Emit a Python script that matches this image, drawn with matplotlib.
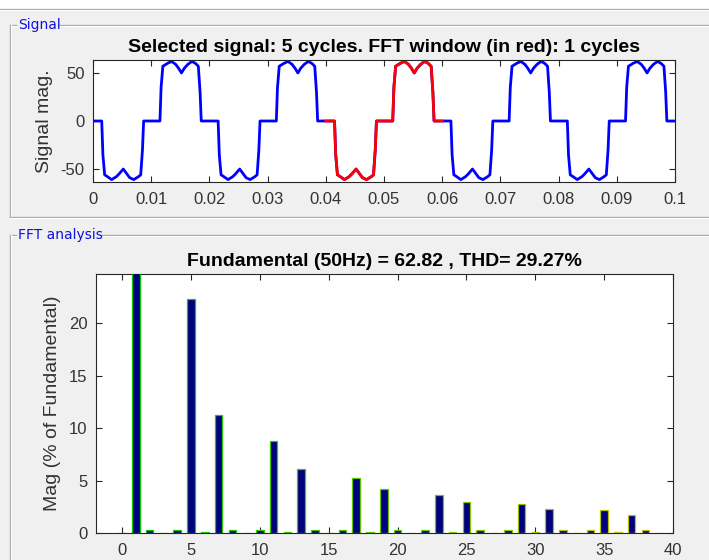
import numpy as np
import matplotlib
matplotlib.use("Agg")
import matplotlib.pyplot as plt
from matplotlib.lines import Line2D
from matplotlib.patches import Rectangle

# ================= DATA =================
# one 50 Hz period of the selected signal (s, magnitude)
CYCLE_T = [0.0000, 0.0015, 0.0017, 0.0020, 0.0025, 0.0032, 0.0040, 0.0045,
           0.0052, 0.0058, 0.0063, 0.0070, 0.0078, 0.0082, 0.0085, 0.0087,
           0.0115, 0.0117, 0.0120, 0.0128, 0.0135, 0.0142, 0.0147, 0.0152,
           0.0157, 0.0163, 0.0170, 0.0176, 0.0181, 0.0184, 0.0186, 0.0200]
CYCLE_V = [0, 0, -35, -56, -58, -61, -58, -55,
           -50, -55, -59, -61, -58, -56, -30, 0,
           0, 35, 57, 60, 62, 59, 55, 50,
           55, 59, 62, 60, 57, 30, 0, 0]
PERIOD = 0.02
N_CYCLES = 5
FFT_CYCLE = 2  # ciklus index a piros ablakhoz (0.04 - 0.06 s)

# harmonic order and magnitude (% of fundamental)
HARM = list(range(0, 40))
HARM_MAG = [0.0, 100.0, 0.25, 0.0, 0.25, 22.35, 0.08, 11.25, 0.25, 0.0,
            0.25, 8.75, 0.08, 6.15, 0.25, 0.0, 0.25, 5.25, 0.08, 4.15,
            0.25, 0.0, 0.25, 3.65, 0.05, 3.0, 0.25, 0.0, 0.25, 2.75,
            0.05, 2.25, 0.25, 0.0, 0.25, 2.15, 0.05, 1.75, 0.25, 0.0]

TOP_TITLE = "Selected signal: 5 cycles. FFT window (in red): 1 cycles"
FFT_TITLE = "Fundamental (50Hz) = 62.82 , THD= 29.27%"
X_TICKS_TOP = [0, 0.01, 0.02, 0.03, 0.04, 0.05, 0.06, 0.07, 0.08, 0.09, 0.1]
X_LABELS_TOP = ["0", "0.01", "0.02", "0.03", "0.04", "0.05", "0.06", "0.07",
                "0.08", "0.09", "0.1"]

# ================= STYLE =================
W, H = 709, 560
BG = "#f0f0f0"
AX_COL = "#262626"
TICK_COL = "#333333"

plt.rcParams['font.family'] = ['Liberation Sans', 'DejaVu Sans']
plt.rcParams['axes.unicode_minus'] = False


def fx(x):
    return x / W


def fy(y):
    return 1 - y / H


def ax_rect(left, top, right, bottom):
    return [fx(left), fy(bottom), (right - left) / W, (bottom - top) / H]


def hline(fig, x0, x1, y):
    fig.add_artist(Line2D([fx(x0), fx(x1)], [fy(y), fy(y)], color="#a0a0a0",
                          lw=0.9, transform=fig.transFigure))
    fig.add_artist(Line2D([fx(x0), fx(x1)], [fy(y + 1), fy(y + 1)], color="white",
                          lw=0.9, transform=fig.transFigure))


def vline(fig, x, y0, y1):
    fig.add_artist(Line2D([fx(x), fx(x)], [fy(y0), fy(y1)], color="#a0a0a0",
                          lw=0.9, transform=fig.transFigure))
    fig.add_artist(Line2D([fx(x + 1), fx(x + 1)], [fy(y0), fy(y1)], color="white",
                          lw=0.9, transform=fig.transFigure))


def style_axes(ax):
    for sp in ax.spines.values():
        sp.set_color(AX_COL)
        sp.set_linewidth(0.8)
    ax.tick_params(direction='in', top=True, right=True, length=4,
                   width=0.8, color=AX_COL, labelsize=12, labelcolor=TICK_COL)
    ax.tick_params(axis='x', pad=7)
    ax.tick_params(axis='y', pad=6)


fig = plt.figure(figsize=(W / 100, H / 100), dpi=100, facecolor=BG)

# felső fehér sáv
fig.add_artist(Rectangle((0, fy(9)), 1, 9 / H, transform=fig.transFigure,
                         facecolor="white", edgecolor="none"))
hline(fig, 0, W, 9)

# panel keretek
hline(fig, 10, 16, 25)
hline(fig, 59, W, 25)
vline(fig, 10, 25, 217)
hline(fig, 10, W, 217)
fig.text(fx(18), fy(25), "Signal", color="#1010e0", fontsize=10,
         family=['DejaVu Sans'], va='center', ha='left')

hline(fig, 10, 16, 235)
hline(fig, 100, W, 235)
vline(fig, 10, 235, H)
fig.text(fx(18), fy(235), "FFT analysis", color="#1010e0", fontsize=10,
         family=['DejaVu Sans'], va='center', ha='left')

# ========== SIGNAL ==========
ax1 = fig.add_axes(ax_rect(93, 60, 675, 182))
cyc_t = np.array(CYCLE_T)
cyc_v = np.array(CYCLE_V)
t_all = np.concatenate([cyc_t + k * PERIOD for k in range(N_CYCLES)])
v_all = np.concatenate([cyc_v for k in range(N_CYCLES)])
ax1.plot(t_all, v_all, color=(0, 0, 1), lw=2.0)
ax1.plot(cyc_t + FFT_CYCLE * PERIOD, cyc_v, color=(1, 0, 0), lw=2.0)
ax1.set_xlim(0, 0.1)
ax1.set_ylim(-63.5, 63.5)
ax1.set_xticks(X_TICKS_TOP)
ax1.set_xticklabels(X_LABELS_TOP)
ax1.set_yticks([-50, 0, 50])
ax1.set_title(TOP_TITLE, fontsize=14, fontweight='bold', pad=5.5)
ax1.set_ylabel("Signal mag.", fontsize=14, color=TICK_COL, va='center')
ax1.yaxis.set_label_coords(-0.083, 0.5)
style_axes(ax1)

# ========== FFT ==========
ax2 = fig.add_axes(ax_rect(96, 274, 673, 533))
n = len(HARM)
edge_cols = [(0.0 + 0.8 * i / (n - 1), 0.78 - 0.02 * i / (n - 1), 0.0) for i in range(n)]
ax2.bar(HARM, HARM_MAG, width=0.55, color=(0, 0, 0.5), edgecolor=edge_cols,
        linewidth=0.9, zorder=3)
ax2.set_xlim(-1.9, 40)
ax2.set_ylim(0, 24.7)
ax2.set_xticks(range(0, 41, 5))
ax2.set_yticks(range(0, 21, 5))
ax2.set_title(FFT_TITLE, fontsize=14, fontweight='bold', pad=5.5)
ax2.set_ylabel("Mag (% of Fundamental)", fontsize=14, color=TICK_COL, va='center')
ax2.yaxis.set_label_coords(-0.075, 0.5)
style_axes(ax2)

plt.savefig("out.png", dpi=100, facecolor=BG)
